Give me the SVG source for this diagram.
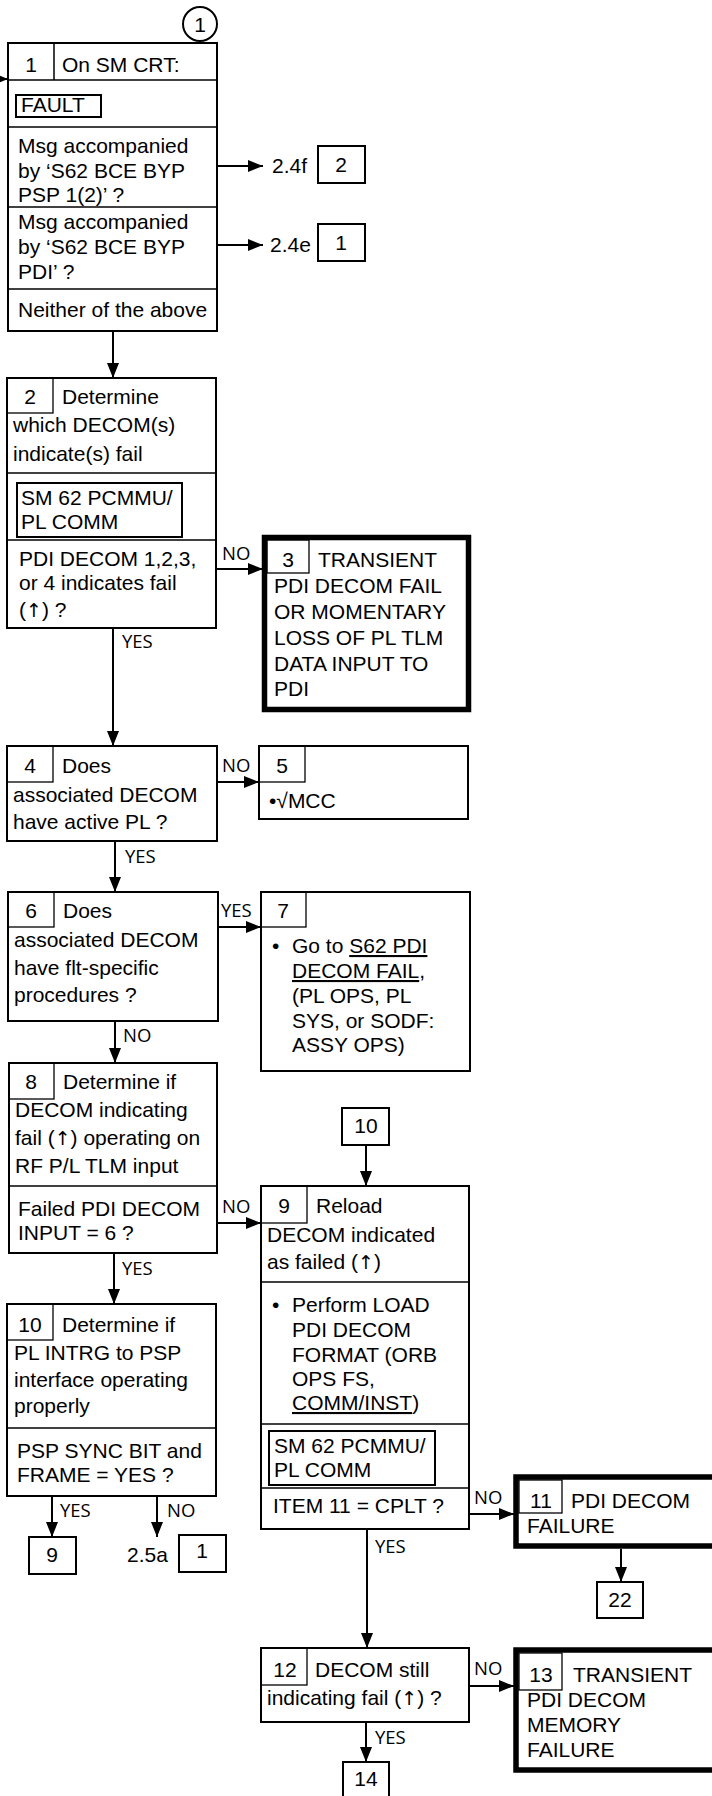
<svg xmlns="http://www.w3.org/2000/svg" width="712" height="1796" viewBox="0 0 712 1796">
<style>
.t{font-family:"Liberation Sans",Arial,sans-serif;font-size:21px;fill:#000}
.c{text-anchor:middle}
.ar{font-family:"DejaVu Sans",sans-serif;font-size:19px}
.l{font-family:"Open Sans","DejaVu Sans",sans-serif;font-size:18.5px;fill:#000}
.box{fill:#fff;stroke:#000;stroke-width:2}
.cell{fill:none;stroke:#000;stroke-width:1.3}
.thick{fill:#fff;stroke:#000;stroke-width:5.5}
.ln{stroke:#000;stroke-width:1.5;fill:none}
.conn{stroke:#000;stroke-width:2;fill:none;marker-end:url(#ah)}
.u{text-decoration:underline}
</style>
<defs>
<marker id="ah" markerUnits="userSpaceOnUse" markerWidth="15" markerHeight="12" refX="15" refY="6" orient="auto">
<path d="M0,0 L15,6 L0,12 z" fill="#000"/>
</marker>
</defs>
<rect width="712" height="1796" fill="#fff"/>

<g id="connectors">
<path class="conn" d="M-10,79 L8,79"/>
<path class="conn" d="M217,166 L263,166"/>
<path class="conn" d="M217,245 L263,245"/>
<path class="conn" d="M113,331 L113,378"/>
<path class="conn" d="M216,569 L263,569"/>
<path class="conn" d="M113,628 L113,746"/>
<path class="conn" d="M217,782 L259,782"/>
<path class="conn" d="M115,841 L115,892"/>
<path class="conn" d="M218,927 L261,927"/>
<path class="conn" d="M115,1021 L115,1063"/>
<path class="conn" d="M217,1223 L261,1223"/>
<path class="conn" d="M366,1145 L366,1186"/>
<path class="conn" d="M114,1253 L114,1304"/>
<path class="conn" d="M52,1496 L52,1537"/>
<path class="conn" d="M157,1496 L157,1537"/>
<path class="conn" d="M469,1514 L514,1514"/>
<path class="conn" d="M621,1549 L621,1582"/>
<path class="conn" d="M367,1529 L367,1648"/>
<path class="conn" d="M469,1686 L514,1686"/>
<path class="conn" d="M366,1722 L366,1762"/>
<text class="l" x="222" y="560">NO</text>
<text class="l" x="122" y="648">YES</text>
<text class="l" x="222" y="772">NO</text>
<text class="l" x="125" y="863">YES</text>
<text class="l" x="221" y="917">YES</text>
<text class="l" x="123" y="1042">NO</text>
<text class="l" x="222" y="1213">NO</text>
<text class="l" x="122" y="1275">YES</text>
<text class="l" x="60" y="1517">YES</text>
<text class="l" x="167" y="1517">NO</text>
<text class="l" x="474" y="1504">NO</text>
<text class="l" x="375" y="1553">YES</text>
<text class="l" x="474" y="1675">NO</text>
<text class="l" x="375" y="1744">YES</text>
</g>

<g id="start-circle">
<circle cx="200" cy="24" r="17" fill="#fff" stroke="#000" stroke-width="2"/>
<text class="t c" x="200" y="32">1</text>
</g>

<g id="node1">
<rect class="box" x="8" y="43" width="209" height="288"/>
<line class="ln" x1="54" y1="43" x2="54" y2="80"/>
<line class="ln" x1="8" y1="80" x2="217" y2="80" stroke-width="2"/>
<line class="ln" x1="8" y1="127" x2="217" y2="127" stroke-width="2"/>
<line class="ln" x1="8" y1="207" x2="217" y2="207" stroke-width="2"/>
<line class="ln" x1="8" y1="289" x2="217" y2="289" stroke-width="2"/>
<text class="t c" x="31" y="72">1</text>
<text class="t" x="62" y="72">On SM CRT:</text>
<rect class="box" x="16" y="95" width="85" height="22"/>
<text class="t" x="21" y="112">FAULT</text>
<text class="t" x="18" y="153">Msg accompanied</text>
<text class="t" x="18" y="178">by ‘S62 BCE BYP</text>
<text class="t" x="18" y="202">PSP 1(2)’ ?</text>
<text class="t" x="18" y="229">Msg accompanied</text>
<text class="t" x="18" y="254">by ‘S62 BCE BYP</text>
<text class="t" x="18" y="279">PDI’ ?</text>
<text class="t" x="18" y="317">Neither of the above</text>
</g>

<g id="ref-2-4f">
<text class="t" x="272" y="173">2.4f</text>
<rect class="box" x="318" y="146" width="47" height="37"/>
<text class="t c" x="341" y="172">2</text>
</g>
<g id="ref-2-4e">
<text class="t" x="270" y="252">2.4e</text>
<rect class="box" x="318" y="224" width="47" height="37"/>
<text class="t c" x="341" y="250">1</text>
</g>

<g id="node2">
<rect class="box" x="7" y="378" width="209" height="250"/>
<rect class="cell" x="7" y="378" width="46" height="35"/>
<line class="ln" x1="7" y1="473" x2="216" y2="473" stroke-width="2"/>
<line class="ln" x1="7" y1="540" x2="216" y2="540" stroke-width="2"/>
<text class="t c" x="30" y="404">2</text>
<text class="t" x="62" y="404">Determine</text>
<text class="t" x="13" y="432">which DECOM(s)</text>
<text class="t" x="13" y="461">indicate(s) fail</text>
<rect class="box" x="17" y="483" width="165" height="54"/>
<text class="t" x="21" y="505">SM 62 PCMMU/</text>
<text class="t" x="21" y="529">PL COMM</text>
<text class="t" x="19" y="566">PDI DECOM 1,2,3,</text>
<text class="t" x="19" y="590">or 4 indicates fail</text>
<text class="t" x="19" y="617">(<tspan class="ar">↑</tspan>) ?</text>
</g>

<g id="node3">
<rect class="thick" x="264.5" y="537.5" width="204" height="172"/>
<rect class="cell" x="267" y="540" width="42" height="33"/>
<text class="t c" x="288" y="567">3</text>
<text class="t" x="318" y="567">TRANSIENT</text>
<text class="t" x="274" y="593">PDI DECOM FAIL</text>
<text class="t" x="274" y="619">OR MOMENTARY</text>
<text class="t" x="274" y="645">LOSS OF PL TLM</text>
<text class="t" x="274" y="671">DATA INPUT TO</text>
<text class="t" x="274" y="696">PDI</text>
</g>

<g id="node4">
<rect class="box" x="7" y="746" width="210" height="95"/>
<rect class="cell" x="7" y="746" width="46" height="36"/>
<text class="t c" x="30" y="773">4</text>
<text class="t" x="62" y="773">Does</text>
<text class="t" x="13" y="802">associated DECOM</text>
<text class="t" x="13" y="829">have active PL ?</text>
</g>

<g id="node5">
<rect class="box" x="259" y="746" width="209" height="73"/>
<rect class="cell" x="259" y="746" width="46" height="36"/>
<text class="t c" x="282" y="773">5</text>
<text class="t" x="269" y="808">•√MCC</text>
</g>

<g id="node6">
<rect class="box" x="8" y="892" width="210" height="129"/>
<rect class="cell" x="8" y="892" width="46" height="35"/>
<text class="t c" x="31" y="918">6</text>
<text class="t" x="63" y="918">Does</text>
<text class="t" x="14" y="947">associated DECOM</text>
<text class="t" x="14" y="975">have flt-specific</text>
<text class="t" x="14" y="1002">procedures ?</text>
</g>

<g id="node7">
<rect class="box" x="261" y="892" width="209" height="179"/>
<rect class="cell" x="261" y="892" width="45" height="35"/>
<text class="t c" x="283" y="918">7</text>
<text class="t" x="272" y="953">•</text>
<text class="t" x="292" y="953">Go to <tspan class="u">S62 PDI</tspan></text>
<text class="t" x="292" y="978"><tspan class="u">DECOM FAIL</tspan>,</text>
<text class="t" x="292" y="1003">(PL OPS, PL</text>
<text class="t" x="292" y="1028">SYS, or SODF:</text>
<text class="t" x="292" y="1052">ASSY OPS)</text>
</g>

<g id="node8">
<rect class="box" x="9" y="1063" width="208" height="190"/>
<rect class="cell" x="9" y="1063" width="45" height="36"/>
<line class="ln" x1="9" y1="1186" x2="217" y2="1186" stroke-width="2"/>
<text class="t c" x="31" y="1089">8</text>
<text class="t" x="63" y="1089">Determine if</text>
<text class="t" x="15" y="1117">DECOM indicating</text>
<text class="t" x="15" y="1145">fail (<tspan class="ar">↑</tspan>) operating on</text>
<text class="t" x="15" y="1173">RF P/L TLM input</text>
<text class="t" x="18" y="1216">Failed PDI DECOM</text>
<text class="t" x="18" y="1240">INPUT = 6 ?</text>
</g>

<g id="ref-10">
<rect class="box" x="342" y="1108" width="47" height="37"/>
<text class="t c" x="366" y="1133">10</text>
</g>

<g id="node9">
<rect class="box" x="261" y="1186" width="208" height="343"/>
<rect class="cell" x="261" y="1186" width="46" height="37"/>
<line class="ln" x1="261" y1="1282" x2="469" y2="1282" stroke-width="2"/>
<line class="ln" x1="261" y1="1424" x2="469" y2="1424" stroke-width="2"/>
<line class="ln" x1="261" y1="1488" x2="469" y2="1488" stroke-width="2"/>
<text class="t c" x="284" y="1213">9</text>
<text class="t" x="316" y="1213">Reload</text>
<text class="t" x="267" y="1242">DECOM indicated</text>
<text class="t" x="267" y="1269">as failed (<tspan class="ar">↑</tspan>)</text>
<text class="t" x="272" y="1312">•</text>
<text class="t" x="292" y="1312">Perform LOAD</text>
<text class="t" x="292" y="1337">PDI DECOM</text>
<text class="t" x="292" y="1362">FORMAT (ORB</text>
<text class="t" x="292" y="1386">OPS FS,</text>
<text class="t" x="292" y="1410"><tspan class="u">COMM/INST</tspan>)</text>
<rect class="box" x="269" y="1431" width="166" height="54"/>
<text class="t" x="274" y="1453">SM 62 PCMMU/</text>
<text class="t" x="274" y="1477">PL COMM</text>
<text class="t" x="273" y="1513">ITEM 11 = CPLT ?</text>
</g>

<g id="node10">
<rect class="box" x="7" y="1304" width="209" height="192"/>
<rect class="cell" x="7" y="1304" width="46" height="36"/>
<line class="ln" x1="7" y1="1428" x2="216" y2="1428" stroke-width="2"/>
<text class="t c" x="30" y="1332">10</text>
<text class="t" x="62" y="1332">Determine if</text>
<text class="t" x="14" y="1360">PL INTRG to PSP</text>
<text class="t" x="14" y="1387">interface operating</text>
<text class="t" x="14" y="1413">properly</text>
<text class="t" x="17" y="1458">PSP SYNC BIT and</text>
<text class="t" x="17" y="1482">FRAME = YES ?</text>
</g>

<g id="ref-9">
<rect class="box" x="29" y="1537" width="47" height="37"/>
<text class="t c" x="52" y="1562">9</text>
</g>
<g id="ref-2-5a">
<text class="t" x="127" y="1562">2.5a</text>
<rect class="box" x="179" y="1535" width="47" height="37"/>
<text class="t c" x="202" y="1558">1</text>
</g>

<g id="node11">
<rect class="thick" x="516" y="1477" width="210" height="69"/>
<rect class="cell" x="519" y="1480" width="43" height="33"/>
<text class="t c" x="541" y="1508">11</text>
<text class="t" x="571" y="1508">PDI DECOM</text>
<text class="t" x="527" y="1533">FAILURE</text>
</g>

<g id="ref-22">
<rect class="box" x="597" y="1582" width="46" height="36"/>
<text class="t c" x="620" y="1607">22</text>
</g>

<g id="node12">
<rect class="box" x="261" y="1648" width="208" height="74"/>
<rect class="cell" x="261" y="1648" width="46" height="37"/>
<text class="t c" x="285" y="1677">12</text>
<text class="t" x="315" y="1677">DECOM still</text>
<text class="t" x="267" y="1705">indicating fail (<tspan class="ar">↑</tspan>) ?</text>
</g>

<g id="node13">
<rect class="thick" x="516" y="1650" width="210" height="120"/>
<rect class="cell" x="519" y="1653" width="43" height="37"/>
<text class="t c" x="541" y="1682">13</text>
<text class="t" x="573" y="1682">TRANSIENT</text>
<text class="t" x="527" y="1707">PDI DECOM</text>
<text class="t" x="527" y="1732">MEMORY</text>
<text class="t" x="527" y="1757">FAILURE</text>
</g>

<g id="ref-14">
<rect class="box" x="343" y="1762" width="46" height="40"/>
<text class="t c" x="366" y="1786">14</text>
</g>
</svg>
